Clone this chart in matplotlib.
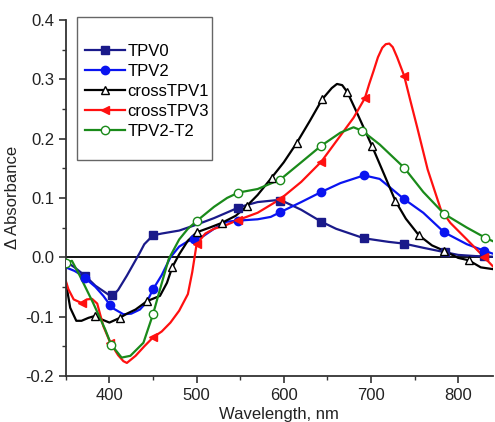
import numpy as np
import matplotlib
matplotlib.use('Agg')
import matplotlib.pyplot as plt
from matplotlib.patches import Rectangle
from matplotlib.ticker import MultipleLocator, FormatStrFormatter

plt.rcParams['font.family'] = ['Liberation Sans', 'DejaVu Sans']
plt.rcParams['axes.unicode_minus'] = False

# TPV0
tpv0_x = [350, 360, 372, 384, 399, 405, 410, 420, 430, 435, 440, 450, 460, 480, 500, 520,
          550, 570, 590, 600, 620, 643, 660, 692, 720, 738, 760, 780, 800, 820, 840]
tpv0_y = [-0.007, -0.017, -0.031, -0.048, -0.063, -0.063, -0.055, -0.031, -0.005, 0.008, 0.022,
          0.037, 0.04, 0.045, 0.055, 0.066, 0.085, 0.093, 0.096, 0.094, 0.08, 0.06, 0.048, 0.032, 0.026,
          0.023, 0.016, 0.01, 0.004, 0.002, 0.001]
tpv0_mk = [372, 403, 450, 548, 596, 643, 692, 738, 785, 830]

# TPV2
tpv2_x = [350, 360, 368, 384, 393, 403, 416, 425, 435, 443, 450, 460, 470, 480, 490, 497, 508, 520,
          535, 550, 570, 585, 596, 620, 643, 665, 692, 710, 738, 760, 784, 810, 830, 840]
tpv2_y = [-0.017, -0.023, -0.03, -0.05, -0.065, -0.085, -0.096, -0.095, -0.088, -0.075, -0.054, -0.03,
          0.0, 0.018, 0.027, 0.03, 0.036, 0.048, 0.06, 0.062, 0.064, 0.068, 0.076, 0.093, 0.11, 0.125,
          0.138, 0.132, 0.098, 0.075, 0.042, 0.022, 0.011, 0.006]
tpv2_mk = [372, 401, 450, 497, 548, 596, 643, 692, 738, 784, 830]

# crossTPV1
ctpv1_x = [350, 355, 362, 368, 376, 383, 390, 400, 412, 420, 430, 443, 458, 466, 472, 480, 490,
           500, 515, 529, 545, 558, 570, 586, 600, 615, 630, 644, 655, 661, 667, 673, 685, 701, 715,
           728, 740, 755, 770, 784, 800, 812, 826, 840]
ctpv1_y = [-0.042, -0.085, -0.107, -0.107, -0.102, -0.099, -0.104, -0.11, -0.102, -0.095,
           -0.088, -0.074, -0.065, -0.043, -0.017, 0.005, 0.028, 0.042, 0.05, 0.058, 0.07, 0.087,
           0.105, 0.134, 0.16, 0.193, 0.23, 0.266, 0.285, 0.292, 0.29, 0.278, 0.24, 0.188, 0.14,
           0.095, 0.065, 0.037, 0.02, 0.011, -0.001, -0.005, -0.017, -0.02]
ctpv1_mk = [383, 412, 443, 472, 500, 529, 558, 586, 615, 644, 673, 701, 728, 755, 784, 812]

# crossTPV3
ctpv3_x = [350, 353, 359, 368, 374, 380, 386, 393, 401, 410, 416, 420, 430, 440, 450, 460, 470, 480,
           490, 495, 500, 510, 520, 535, 548, 570, 596, 620, 643, 665, 680, 693, 698, 703, 708, 713,
           717, 721, 725, 730, 738, 745, 753, 765, 780, 791, 810, 830, 841]
ctpv3_y = [-0.04, -0.054, -0.071, -0.077, -0.071, -0.07, -0.078, -0.116, -0.144, -0.165, -0.175,
           -0.178, -0.166, -0.15, -0.135, -0.125, -0.11, -0.09, -0.062, -0.025, 0.022, 0.04, 0.048,
           0.055, 0.063, 0.075, 0.098, 0.127, 0.161, 0.205, 0.235, 0.268, 0.292, 0.314, 0.337, 0.353,
           0.359, 0.36, 0.354, 0.337, 0.306, 0.265, 0.219, 0.148, 0.081, 0.058, 0.03, 0.0, -0.017]
ctpv3_mk = [368, 401, 450, 500, 548, 596, 643, 693, 738, 830]

# TPV2-T2
t2_x = [350, 357, 366, 381, 395, 402, 414, 424, 439, 450, 458, 468, 480, 490, 500, 520, 535, 548,
        570, 596, 620, 643, 665, 680, 690, 710, 738, 760, 784, 810, 831, 840]
t2_y = [-0.009, -0.006, -0.031, -0.076, -0.121, -0.147, -0.169, -0.166, -0.144, -0.096, -0.054,
        -0.003, 0.03, 0.048, 0.061, 0.085, 0.1, 0.109, 0.115, 0.131, 0.16, 0.188, 0.21, 0.219, 0.213,
        0.19, 0.151, 0.11, 0.073, 0.05, 0.033, 0.027]
t2_mk = [350, 402, 450, 500, 548, 596, 643, 690, 738, 784, 831]

series = [
    ('TPV0', tpv0_x, tpv0_y, tpv0_mk, '#1a1a8a', 's', '#1a1a8a'),
    ('TPV2', tpv2_x, tpv2_y, tpv2_mk, '#0a14f0', 'o', '#0a14f0'),
    ('crossTPV1', ctpv1_x, ctpv1_y, ctpv1_mk, 'black', '^', 'white'),
    ('crossTPV3', ctpv3_x, ctpv3_y, ctpv3_mk, '#ff1010', '<', '#ff1010'),
    ('TPV2-T2', t2_x, t2_y, t2_mk, '#1a8a1a', 'o', 'white'),
]

fig = plt.figure(figsize=(4.95, 4.22), dpi=100)
ax = fig.add_axes([0.133, 0.109, 0.863, 0.844])

ax.axhline(0, color='black', lw=1.3, zorder=1)

handles = []
for name, x, y, mk, col, m, fc in series:
    ax.plot(x, y, color=col, lw=1.6, zorder=2)
    my = np.interp(mk, x, y)
    ax.plot(mk, my, ls='none', marker=m, ms=6, mfc=fc, mec=col, mew=1.0, zorder=3)
    h, = ax.plot([], [], color=col, lw=1.6, marker=m, ms=6, mfc=fc, mec=col, mew=1.0)
    handles.append(h)

ax.set_xlim(350, 840)
ax.set_ylim(-0.2, 0.4)
ax.xaxis.set_major_locator(MultipleLocator(100))
ax.xaxis.set_minor_locator(MultipleLocator(50))
ax.yaxis.set_major_locator(MultipleLocator(0.1))
ax.yaxis.set_minor_locator(MultipleLocator(0.05))
ax.yaxis.set_major_formatter(FormatStrFormatter('%.1f'))

for s in ['top', 'right']:
    ax.spines[s].set_visible(False)
for s in ['left', 'bottom']:
    ax.spines[s].set_linewidth(1.3)
    ax.spines[s].set_color('#333333')
ax.tick_params(which='major', direction='out', length=5, width=1.2, labelsize=12, colors='#333333')
ax.tick_params(which='minor', direction='out', length=3, width=1.0, colors='#333333')
for t in ax.get_xticklabels() + ax.get_yticklabels():
    t.set_color('#222222')

ax.set_xlabel('Wavelength, nm', fontsize=12, color='#222222', labelpad=3)
ax.set_ylabel('Δ Absorbance', fontsize=12, color='#222222', labelpad=4)

# legend frame drawn separately (padding is uneven in the original)
box = Rectangle((0.026, 0.607), 0.316, 0.401, transform=ax.transAxes, facecolor='white',
                edgecolor='#666666', lw=1.0, clip_on=False, zorder=4)
ax.add_patch(box)
leg = ax.legend(handles, [s[0] for s in series], loc='upper left',
                bbox_to_anchor=(0.044, 0.933), fontsize=12, frameon=False,
                handlelength=2.4, handletextpad=0.15, labelspacing=0.3, borderpad=0,
                borderaxespad=0)
leg.set_zorder(5)

fig.savefig('out.png', dpi=100)
